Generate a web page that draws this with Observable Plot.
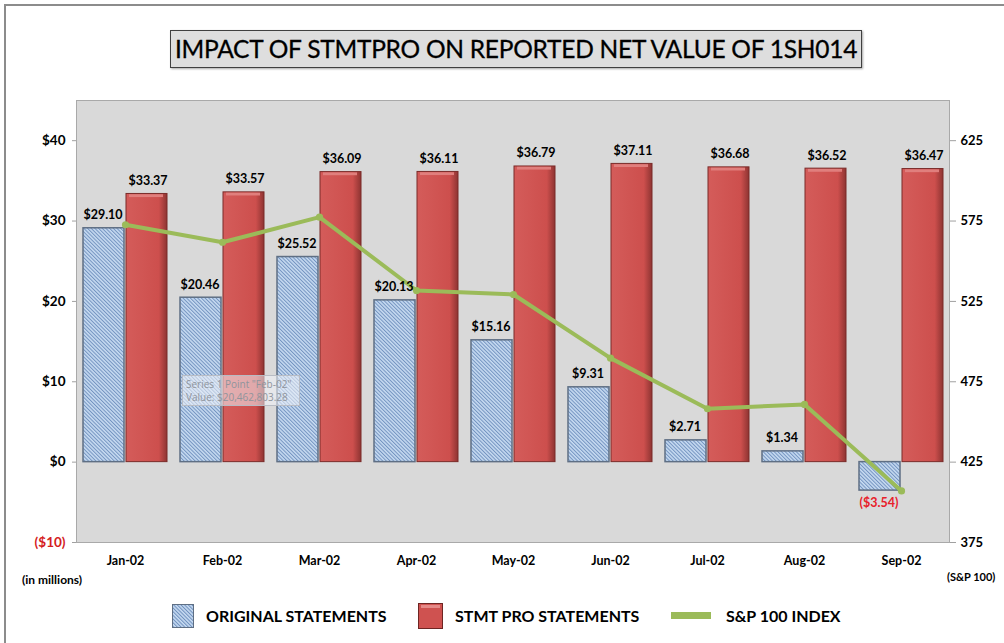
<!DOCTYPE html>
<html>
<head>
<meta charset="utf-8">
<script src="https://cdn.jsdelivr.net/npm/d3@7"></script>
<script src="https://cdn.jsdelivr.net/npm/@observablehq/plot@0.6"></script>
<style>
  html, body { margin: 0; padding: 0; background: #fff; overflow: hidden; }
  body { width: 1004px; height: 643px; position: relative; font-family: Lato, "Open Sans", sans-serif; }
  #frame { position: absolute; left: 4px; top: 4px; width: 1100px; height: 700px; border: 2px solid #8c8c8c; box-sizing: border-box; }
  #title { position: absolute; left: 170px; top: 30px; width: 692px; height: 38px; box-sizing: border-box;
           background: #dedede; border: 1px solid #404040; box-shadow: 1px 1px 2px rgba(0,0,0,0.35);
           font-size: 24.5px; line-height: 36px; text-align: center; color: #000; letter-spacing: -0.25px;
           -webkit-text-stroke: 0.3px #000; }
  #chart { position: absolute; left: 0; top: 90px; }
  .lab { position: absolute; font-weight: bold; color: #000; white-space: nowrap; }
  .leg { position: absolute; font-weight: bold; font-size: 16px; color: #000; white-space: nowrap; top: 605px; line-height: 22px; }
  .sw { position: absolute; }
  #tip { position: absolute; left: 182px; top: 375px; width: 118px; height: 31px; box-sizing: border-box;
         background: rgba(240,243,248,0.55); border: 1px solid #b8bcc4; font-family: "Open Sans", sans-serif;
         font-size: 10px; line-height: 13px; color: #8f949c; padding: 2px 0 0 3px; white-space: nowrap; }
</style>
</head>
<body>
<div id="frame"></div>
<div id="title">IMPACT OF STMTPRO ON REPORTED NET VALUE OF 1SH014</div>
<div id="chart"></div>
<div class="lab" style="left:22px; top:572px; font-size:12px;">(in millions)</div>
<div class="lab" style="left:947px; top:570px; font-size:11px;">(S&amp;P 100)</div>

<svg class="sw" style="left:172px; top:604px;" width="22" height="24">
  <defs>
    <pattern id="hatchL" patternUnits="userSpaceOnUse" width="2.6" height="2.6" patternTransform="rotate(-45)">
      <rect width="2.6" height="2.6" fill="#c6daf1"></rect>
      <rect width="1" height="2.6" fill="#6f90be"></rect>
    </pattern>
  </defs>
  <rect x="0.5" y="0.5" width="21" height="23" fill="url(#hatchL)" stroke="#5f6f84"></rect>
</svg>
<div class="leg" style="left:206px;">ORIGINAL STATEMENTS</div>
<svg class="sw" style="left:418px; top:603px;" width="25" height="26">
  <rect x="0.5" y="0.5" width="24" height="25" fill="#cf5250" stroke="#6e2523"></rect>
  <rect x="3" y="2" width="19" height="3" fill="#e58a88"></rect>
</svg>
<div class="leg" style="left:455px;">STMT PRO STATEMENTS</div>
<svg class="sw" style="left:671px; top:612px;" width="40" height="8">
  <rect x="0" y="0" width="40" height="7" fill="#9bbb59"></rect>
</svg>
<div class="leg" style="left:726px;">S&amp;P 100 INDEX</div>

<div id="tip">Series 1 Point "Feb-02"<br>Value: $20,462,803.28</div>

<script>
const months = ["Jan-02","Feb-02","Mar-02","Apr-02","May-02","Jun-02","Jul-02","Aug-02","Sep-02"];
const original = [29.10, 20.46, 25.52, 20.13, 15.16, 9.31, 2.71, 1.34, -3.54];
const stmtPro = [33.37, 33.57, 36.09, 36.11, 36.79, 37.11, 36.68, 36.52, 36.47];
const sp100 = [572.7, 561.8, 577.4, 531.8, 529.3, 489.7, 458.2, 460.9, 407.1];
const leftTicks = [-10, 0, 10, 20, 30, 40];
const rightTicks = [375, 425, 475, 525, 575, 625];

// right axis maps linearly onto left axis: left = (sp - 425) / 5
const toLeft = v => (v - 425) / 5;

const rowsO = months.map((m, i) => ({month: m, value: original[i]}));
const rowsS = months.map((m, i) => ({month: m, value: stmtPro[i]}));
const rowsL = months.map((m, i) => ({month: m, value: toLeft(sp100[i])}));

const money = v => v < 0 ? `($${Math.abs(v).toFixed(2)})` : `$${v.toFixed(2)}`;

const bw = 84; // band width in px (from padding settings below)
const half = bw / 2 + 1;

const plot = Plot.plot({
  width: 1004,
  height: 500,
  marginLeft: 76,
  marginRight: 55,
  marginTop: 10,
  marginBottom: 48,
  style: {fontFamily: "Lato, 'Open Sans', sans-serif", background: "transparent", overflow: "visible"},
  x: {domain: months, paddingInner: 0.135, paddingOuter: 0.062, label: null},
  y: {domain: [-10, 45], label: null},
  marks: [
    Plot.frame({fill: "#d9d9d9", stroke: "#a9a9a9"}),
    Plot.axisX({tickSize: 0, tickPadding: 14, fontSize: 12.5, fontWeight: "bold", fill: "#000"}),
    Plot.axisY(leftTicks, {anchor: "left", tickSize: 4, tickPadding: 7, fontSize: 13.5, fontWeight: "bold",
      fill: "#000", stroke: "#a0a0a0", tickFormat: d => d < 0 ? `($${-d})` : `$${d}`}),
    Plot.axisY(leftTicks, {anchor: "right", tickSize: 6, tickPadding: 5, fontSize: 13, fontWeight: "bold",
      fill: "#000", stroke: "#a0a0a0", tickFormat: (d, i) => rightTicks[i]}),
    Plot.barY(rowsO, {x: "month", y: "value", insetRight: half, fill: "url(#hatch)", stroke: "#5f6f84", strokeWidth: 1.5}),
    Plot.barY(rowsS, {x: "month", y: "value", insetLeft: half, fill: "url(#redGrad)", stroke: "#7a2b29", strokeWidth: 1}),
    Plot.rectY(rowsS, {x: "month", y1: d => d.value - 0.45, y2: d => d.value - 0.1, insetLeft: half + 3, insetRight: 4, fill: "#e07f7d"}),
    Plot.line(rowsL, {x: "month", y: "value", stroke: "#9bbb59", strokeWidth: 4, strokeLinejoin: "round", strokeLinecap: "round"}),
    Plot.dot(rowsL, {x: "month", y: "value", r: 3.6, fill: "#9bbb59"}),
    Plot.text(rowsO.filter(d => d.value >= 0), {x: "month", y: "value", text: d => money(d.value), dx: -half / 2 - 1, dy: -9,
      lineAnchor: "bottom", fontSize: 12.5, fontWeight: "bold", fill: "#000"}),
    Plot.text(rowsO.filter(d => d.value < 0), {x: "month", y: "value", text: d => money(d.value), dx: -half / 2 - 1, dy: 8,
      lineAnchor: "top", fontSize: 12.5, fontWeight: "bold", fill: "#e8202a"}),
    Plot.text(rowsS, {x: "month", y: "value", text: d => money(d.value), dx: half / 2 + 1, dy: -9,
      lineAnchor: "bottom", fontSize: 12.5, fontWeight: "bold", fill: "#000"})
  ]
});

const defs = d3.select(plot).insert("defs", ":first-child");
const pat = defs.append("pattern").attr("id", "hatch").attr("patternUnits", "userSpaceOnUse")
  .attr("width", 2.6).attr("height", 2.6).attr("patternTransform", "rotate(-45)");
pat.append("rect").attr("width", 2.6).attr("height", 2.6).attr("fill", "#c6daf1");
pat.append("rect").attr("width", 1).attr("height", 2.6).attr("fill", "#7393c0");
const g = defs.append("linearGradient").attr("id", "redGrad").attr("x1", 0).attr("x2", 1).attr("y1", 0).attr("y2", 0);
g.append("stop").attr("offset", "0").attr("stop-color", "#d45c5a");
g.append("stop").attr("offset", "0.8").attr("stop-color", "#cd4f4d");
g.append("stop").attr("offset", "1").attr("stop-color", "#8e3432");

d3.select(plot).selectAll("text").filter(function() { return this.textContent === "($10)"; })
  .attr("fill", "#d42020");

document.getElementById("chart").appendChild(plot);
</script>
</body>
</html>
